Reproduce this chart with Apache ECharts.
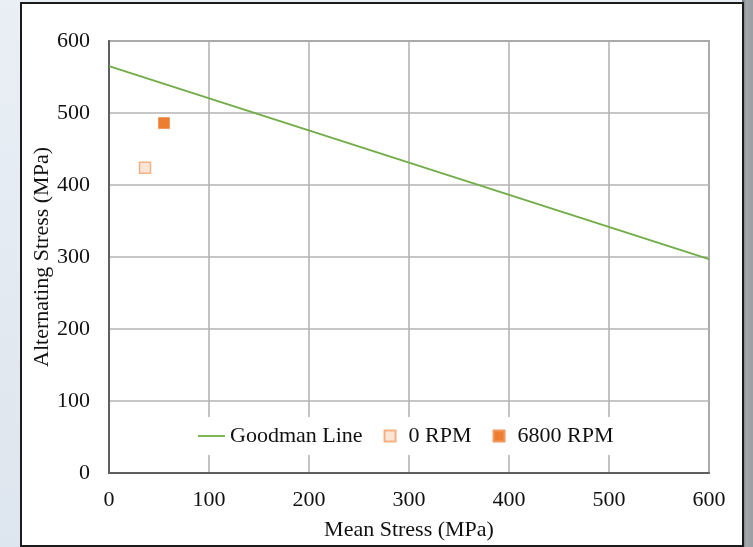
<!DOCTYPE html>
<html>
<head>
<meta charset="utf-8">
<script src="https://cdn.jsdelivr.net/npm/echarts@6/dist/echarts.min.js"></script>
<style>
  html, body { margin: 0; padding: 0; }
  body { width: 753px; height: 547px; overflow: hidden; position: relative;
         background: linear-gradient(to bottom, #e9eff5, #dde5ee); }
  #side { position: absolute; left: 742px; top: 0; width: 11px; height: 547px;
          background: linear-gradient(to right, #6e7176, #a3a6ab 40%, #9b9ea3); }
  #frame { position: absolute; left: 20px; top: 2px; width: 720px; height: 541px;
           border: 2px solid #1b1b1b; background: #fff; }
  #main { position: absolute; left: 0; top: 0; width: 753px; height: 547px; }
</style>
</head>
<body>
<div id="side"></div>
<div id="frame"></div>
<div id="main"></div>
<script>
// axis ticks
var xTicks = [0, 100, 200, 300, 400, 500, 600];
var yTicks = [0, 100, 200, 300, 400, 500, 600];

// Goodman line end points (mean stress, alternating stress)
var goodmanMean = [0, 600];
var goodmanAlt = [565, 297];

// measured points
var rpm0Mean = [36];
var rpm0Alt = [424];
var rpm6800Mean = [55];
var rpm6800Alt = [486];

function pairs(xs, ys) {
  return xs.map(function (x, i) { return [x, ys[i]]; });
}

var font = "'Liberation Serif', 'Times New Roman', serif";
var textColor = "#111";
var chart = echarts.init(document.getElementById("main"));

var option = {
  backgroundColor: "transparent",
  animation: false,
  grid: {
    left: 109, top: 41, width: 600, height: 432,
    containLabel: false,
    outerBoundsMode: "none",
    show: true,
    borderColor: "#5f5f5f",
    borderWidth: 1.5
  },
  legend: {
    left: 188, top: 417,
    padding: [8, 10],
    backgroundColor: "#fff",
    itemWidth: 27, itemHeight: 11,
    itemGap: 21,
    textStyle: { fontFamily: font, fontSize: 22, color: textColor },
    data: [
      { name: "Goodman Line", icon: "path://M0,0H27V1.8H0Z" },
      { name: "0 RPM", icon: "path://M0,0H10V10H0Z" },
      { name: "6800 RPM", icon: "path://M0,0H10V10H0Z" }
    ]
  },
  xAxis: {
    type: "value",
    min: xTicks[0], max: xTicks[xTicks.length - 1], interval: 100,
    name: "Mean Stress (MPa)",
    nameLocation: "middle",
    nameGap: 46,
    nameMoveOverlap: false,
    nameTextStyle: { fontFamily: font, fontSize: 22, color: textColor },
    axisLine: { show: true, lineStyle: { color: "#5f5f5f", width: 2 } },
    axisTick: { show: false },
    axisLabel: { fontFamily: font, fontSize: 22, color: textColor, margin: 16 },
    splitLine: { show: true, lineStyle: { color: "#b5b5b5", width: 1.6 } }
  },
  yAxis: {
    type: "value",
    min: yTicks[0], max: yTicks[yTicks.length - 1], interval: 100,
    name: "Alternating Stress (MPa)",
    nameLocation: "middle",
    nameGap: 56,
    nameMoveOverlap: false,
    nameTextStyle: { fontFamily: font, fontSize: 22, color: textColor },
    axisLine: { show: true, lineStyle: { color: "#5f5f5f", width: 2 } },
    axisTick: { show: false },
    axisLabel: { fontFamily: font, fontSize: 22, color: textColor, margin: 19 },
    splitLine: { show: true, lineStyle: { color: "#b5b5b5", width: 1.6 } }
  },
  series: [
    {
      name: "Goodman Line",
      type: "line",
      data: pairs(goodmanMean, goodmanAlt),
      symbol: "none",
      lineStyle: { color: "#70ad47", width: 1.8 },
      itemStyle: { color: "#70ad47" }
    },
    {
      name: "0 RPM",
      type: "scatter",
      data: pairs(rpm0Mean, rpm0Alt),
      symbol: "rect",
      symbolSize: 11,
      itemStyle: { color: "#fbe5d6", borderColor: "#f4b183", borderWidth: 1.5, opacity: 1 }
    },
    {
      name: "6800 RPM",
      type: "scatter",
      data: pairs(rpm6800Mean, rpm6800Alt),
      symbol: "rect",
      symbolSize: 11,
      itemStyle: { color: "#ed7d31", borderColor: "#f19a5c", borderWidth: 1, opacity: 1 }
    }
  ]
};

chart.setOption(option);
</script>
</body>
</html>
